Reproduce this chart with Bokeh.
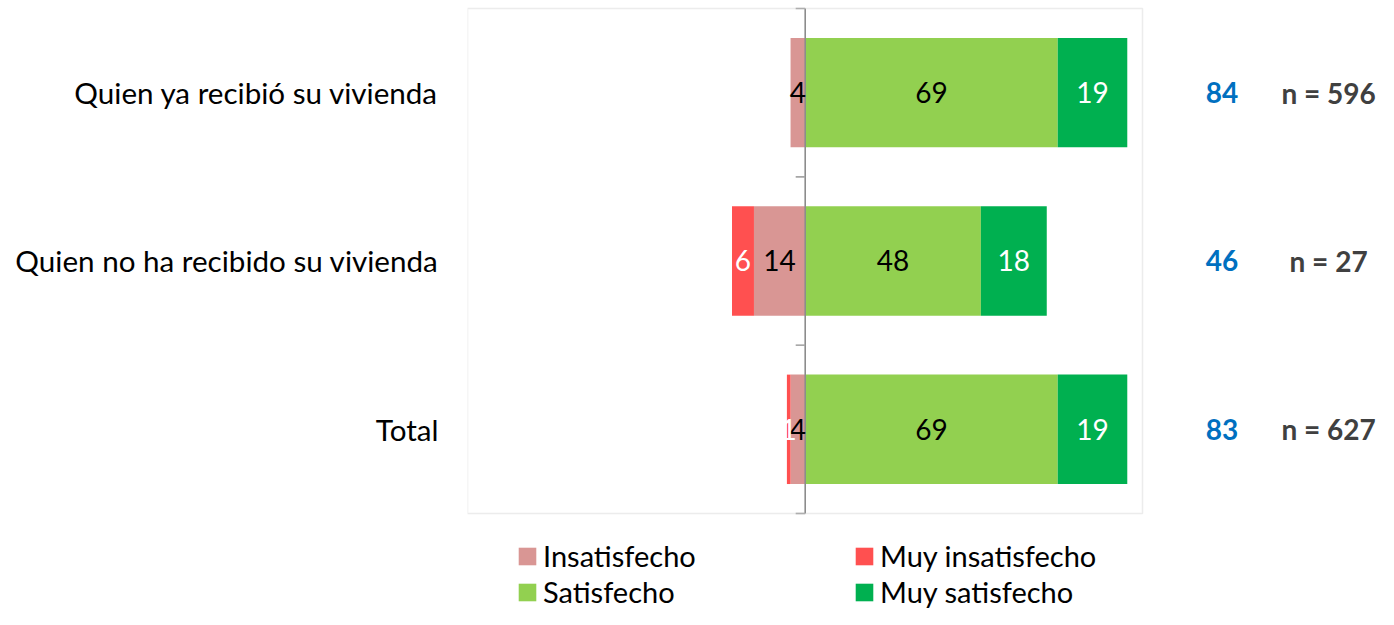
import numpy as np
from bokeh.plotting import figure
from bokeh.models import Range1d, FixedTicker, Legend, LegendItem, BoxAnnotation
from bokeh.core.properties import value
from bokeh.embed import file_html
from bokeh.resources import INLINE

# ---------------- data ----------------
categories = ["Quien ya recibió su vivienda", "Quien no ha recibido su vivienda", "Total"]
insatisfecho = [4, 14, 4]
muy_insatisfecho = [0, 6, 1]
satisfecho = [69, 48, 69]
muy_satisfecho = [19, 18, 19]
neto = [84, 46, 83]
n_muestra = [596, 27, 627]
series_names = ["Insatisfecho", "Muy insatisfecho", "Satisfecho", "Muy satisfecho"]
colors = ["#D99694", "#FF5050", "#92D050", "#00B050"]

# ---------------- layout constants ----------------
FONT = "Lato"
W, H = 1378, 609
BORDER_LEFT = 467              # frame starts at x = 467
PX_PER_UNIT = 3.66             # horizontal scale
ZERO_OFFSET_PX = 337.7         # distance from frame left to zero line
BOX_RIGHT_PX = 675.0           # visible box width (from frame left)
x_start = -ZERO_OFFSET_PX / PX_PER_UNIT
x_end = x_start + (W - BORDER_LEFT) / PX_PER_UNIT
box_right = x_start + BOX_RIGHT_PX / PX_PER_UNIT

PX_PER_BAND = 168.33           # vertical scale (one category band)
y_end = 8 / PX_PER_BAND
y_start = y_end - H / PX_PER_BAND

n = len(categories)
yc = -(np.arange(n) + 0.5)

p = figure(width=W, height=H, output_backend="svg", toolbar_location=None,
           x_range=Range1d(x_start, x_end), y_range=Range1d(y_start, y_end),
           x_axis_location=None, y_axis_location="left",
           min_border_left=BORDER_LEFT, min_border_right=0,
           min_border_top=0, min_border_bottom=0, outline_line_color=None)
p.xgrid.visible = False
p.ygrid.visible = False
p.background_fill_color = "white"
p.border_fill_color = "white"

# y axis with category labels
ax = p.yaxis[0]
ax.ticker = FixedTicker(ticks=list(yc))
ax.major_label_overrides = {float(y): c for y, c in zip(yc, categories)}
ax.axis_line_color = None
ax.major_tick_line_color = None
ax.minor_tick_line_color = None
ax.major_tick_out = 0
ax.major_tick_in = 0
ax.major_label_standoff = 29
ax.major_label_text_font = FONT
ax.major_label_text_font_size = "29.6px"
ax.major_label_text_color = "#000000"

# visible chart box
p.add_layout(BoxAnnotation(left=x_start, right=box_right, top=0, bottom=-n,
                           fill_alpha=0, line_color="#BFBFBF", line_width=1.5))

ins = np.array(insatisfecho, dtype=float)
mi = np.array(muy_insatisfecho, dtype=float)
sat = np.array(satisfecho, dtype=float)
ms = np.array(muy_satisfecho, dtype=float)

bh = 0.65
r_ins = p.hbar(y=yc, left=-ins, right=0, height=bh, fill_color=colors[0], line_color=None)
r_mi = p.hbar(y=yc, left=-(ins + mi), right=-ins, height=bh, fill_color=colors[1], line_color=None)
r_sat = p.hbar(y=yc, left=0, right=sat, height=bh, fill_color=colors[2], line_color=None)
r_ms = p.hbar(y=yc, left=sat, right=sat + ms, height=bh, fill_color=colors[3], line_color=None)

# zero axis line and category ticks
p.segment(x0=0, x1=0, y0=0, y1=-n, line_color="#8C8C8C", line_width=1.6)
tick_len = 9.5 / PX_PER_UNIT
tick_y = -np.arange(n + 1, dtype=float)
p.segment(x0=-tick_len, x1=0, y0=tick_y, y1=tick_y, line_color="#A6A6A6", line_width=1.6)

# bar labels
def seg_labels(center, vals, color):
    xs, ys, ts = [], [], []
    for c, v, y in zip(center, vals, yc):
        if v > 0:
            xs.append(c); ys.append(y); ts.append(str(int(v)))
    p.text(x=xs, y=ys, text=ts, text_align="center", text_baseline="middle",
           text_font=value(FONT), text_font_size="28px", text_color=color)

seg_labels(-ins / 2, ins, "#000000")
seg_labels(-(ins + mi / 2), mi, "#FFFFFF")
seg_labels(sat / 2, sat, "#000000")
seg_labels(sat + ms / 2, ms, "#FFFFFF")

# right side annotations
p.text(x=[113.9] * n, y=yc, text=[str(v) for v in neto], text_align="center",
       text_baseline="middle", text_font=value(FONT), text_font_style="bold",
       text_font_size="28px", text_color="#0070C0")
p.text(x=[143.0] * n, y=yc, text=[f"n = {v}" for v in n_muestra], text_align="center",
       text_baseline="middle", text_font=value(FONT), text_font_style="bold",
       text_font_size="28px", text_color="#404040")

# legend (two columns)
def make_legend(items, loc):
    lg = Legend(items=items, location=loc, orientation="vertical",
                glyph_width=22, glyph_height=22, label_standoff=5, spacing=1,
                padding=0, margin=0, border_line_color=None, background_fill_alpha=0,
                label_text_font=FONT, label_text_font_size="29px",
                label_text_color="#000000")
    p.add_layout(lg)

make_legend([LegendItem(label=series_names[0], renderers=[r_ins]),
             LegendItem(label=series_names[2], renderers=[r_sat])], (49, 0))
make_legend([LegendItem(label=series_names[1], renderers=[r_mi]),
             LegendItem(label=series_names[3], renderers=[r_ms])], (386, 0))

open("out.html", "w").write(file_html(p, INLINE))
